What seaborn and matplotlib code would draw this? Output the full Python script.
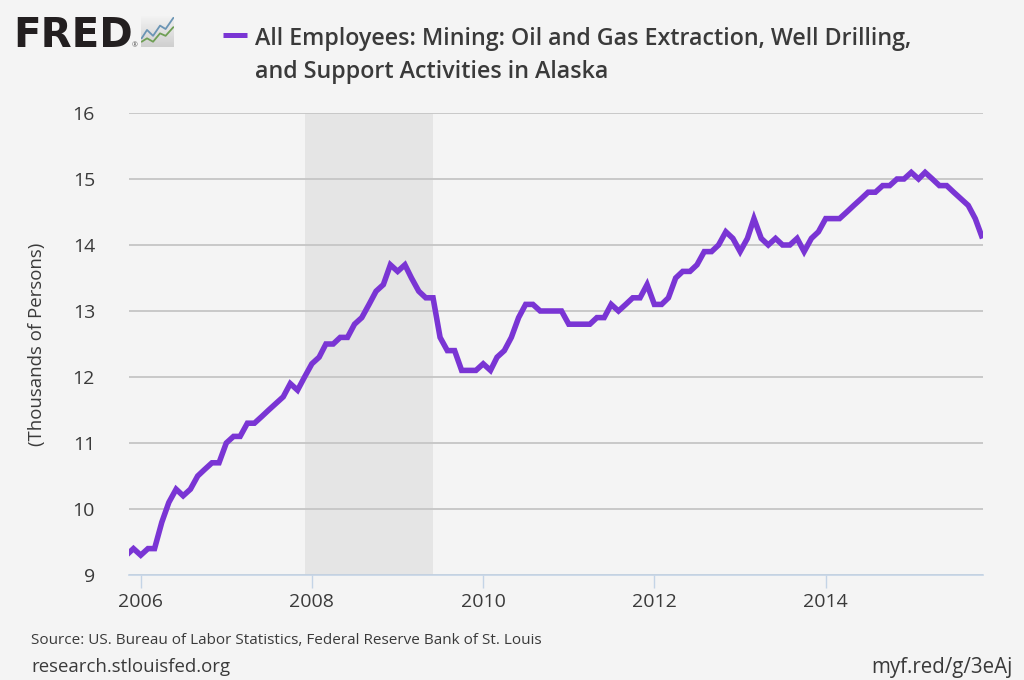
import matplotlib
matplotlib.use("Agg")
import matplotlib.pyplot as plt
import matplotlib.dates as mdates
import numpy as np
import pandas as pd
import seaborn as sns

values = [
    9.3, 9.4,
    9.3, 9.4, 9.4, 9.8, 10.1, 10.3, 10.2, 10.3, 10.5, 10.6, 10.7, 10.7,
    11.0, 11.1, 11.1, 11.3, 11.3, 11.4, 11.5, 11.6, 11.7, 11.9, 11.8, 12.0,
    12.2, 12.3, 12.5, 12.5, 12.6, 12.6, 12.8, 12.9, 13.1, 13.3, 13.4, 13.7,
    13.6, 13.7, 13.5, 13.3, 13.2, 13.2, 12.6, 12.4, 12.4, 12.1, 12.1, 12.1,
    12.2, 12.1, 12.3, 12.4, 12.6, 12.9, 13.1, 13.1, 13.0, 13.0, 13.0, 13.0,
    12.8, 12.8, 12.8, 12.8, 12.9, 12.9, 13.1, 13.0, 13.1, 13.2, 13.2, 13.4,
    13.1, 13.1, 13.2, 13.5, 13.6, 13.6, 13.7, 13.9, 13.9, 14.0, 14.2, 14.1,
    13.9, 14.1, 14.4, 14.1, 14.0, 14.1, 14.0, 14.0, 14.1, 13.9, 14.1, 14.2,
    14.4, 14.4, 14.4, 14.5, 14.6, 14.7, 14.8, 14.8, 14.9, 14.9, 15.0, 15.0,
    15.1, 15.0, 15.1, 15.0, 14.9, 14.9, 14.8, 14.7, 14.6, 14.4, 14.1,
]
dates = pd.date_range("2005-11-01", periods=len(values), freq="MS")
recession = ("2007-12-01", "2009-06-01")
x_limits = ("2005-11-12", "2015-11-03")
y_ticks = [9, 10, 11, 12, 13, 14, 15, 16]
x_years = [2006, 2008, 2010, 2012, 2014]
title_lines = ["All Employees: Mining: Oil and Gas Extraction, Well Drilling,",
               "and Support Activities in Alaska"]
y_label = "(Thousands of Persons)"
source = "Source: US. Bureau of Labor Statistics, Federal Reserve Bank of St. Louis"
site = "research.stlouisfed.org"
short_url = "myf.red/g/3eAj"
logo_text = "FRED"
logo_x = [0.0, 0.17, 0.36, 0.58, 0.755, 1.0]
logo_blue = [0.28, 0.55, 0.36, 0.69, 0.58, 0.94]
logo_green = [0.17, 0.28, 0.17, 0.44, 0.36, 0.64]

BG = "#f4f4f4"
PURPLE = "#7a35d4"
TEXT = "#3a3a3a"
W, H = 1024, 680

sns.set_theme(style="white")
plt.rcParams["font.family"] = ["Open Sans", "DejaVu Sans"]

fig = plt.figure(figsize=(W / 100, H / 100), dpi=100, facecolor=BG)
ax = fig.add_axes([129 / W, 1 - 575 / H, (983 - 129) / W, (575 - 113) / H], facecolor=BG)

df = pd.DataFrame({"date": dates, "value": values})
ax.axvspan(pd.Timestamp(recession[0]), pd.Timestamp(recession[1]), color="#e5e5e5", lw=0, zorder=0)
ax.yaxis.grid(True, color="#c8c8c8", lw=1.4, zorder=1)
ax.xaxis.grid(False)
ax.set_axisbelow(True)
sns.lineplot(data=df, x="date", y="value", ax=ax, color=PURPLE, lw=4.0, zorder=3,
             solid_joinstyle="miter", solid_capstyle="butt", errorbar=None)

ax.set_xlim(pd.Timestamp(x_limits[0]), pd.Timestamp(x_limits[1]))
ax.set_ylim(9, 16)
ax.set_yticks(y_ticks)
ax.set_xticks([pd.Timestamp(f"{y}-01-01") for y in x_years])
ax.xaxis.set_major_formatter(mdates.DateFormatter("%Y"))
ax.set_xlabel("")
ax.set_ylabel(y_label, fontsize=13.4, color=TEXT, labelpad=0)
ax.yaxis.set_label_coords((46 - 129) / (983 - 129), 0.5)
ax.tick_params(axis="y", left=False, length=0, labelsize=14, labelcolor=TEXT, pad=24.5)
ax.tick_params(axis="x", bottom=True, length=9.4, width=1.0, color="#c4d4e6", labelsize=14, labelcolor=TEXT, pad=3.6)
for s in ["top", "left", "right"]:
    ax.spines[s].set_visible(False)
ax.spines["bottom"].set_color("#c4d4e6")
ax.spines["bottom"].set_linewidth(1.2)

# Header
fig.text(13 / W, 1 - 47 / H, logo_text, fontsize=29, fontweight="bold", color="#231f20",
         family=["DejaVu Sans"], va="baseline", ha="left")
fig.text(132 / W, 1 - 47 / H, "\u00ae", fontsize=5, color="#555555", va="baseline", ha="left")
icon = fig.add_axes([141 / W, 1 - 47 / H, 33 / W, 31 / H])
icon.imshow(np.linspace(0.95, 0.81, 32).reshape(-1, 1), cmap="gray", vmin=0, vmax=1,
            extent=(-0.02, 1.02, 0, 1), aspect="auto", zorder=0)
icon.plot(logo_x, logo_blue, color="#6b95b5", lw=1.3)
icon.plot(logo_x, logo_green, color="#6f9f55", lw=1.3)
icon.set_xlim(-0.02, 1.02)
icon.set_ylim(0, 1)
icon.set_xticks([])
icon.set_yticks([])
for s in icon.spines.values():
    s.set_visible(False)

fig.add_artist(plt.Line2D([223 / W, 247 / W], [1 - 34.5 / H, 1 - 34.5 / H], color=PURPLE, lw=3.6,
                          solid_capstyle="butt", transform=fig.transFigure))
fig.text(255 / W, 1 - 39 / H, title_lines[0], fontsize=16.75, fontweight="semibold", color=TEXT, va="center", ha="left")
fig.text(255 / W, 1 - 72 / H, title_lines[1], fontsize=16.75, fontweight="semibold", color=TEXT, va="center", ha="left")

# Footer
fig.text(31 / W, 1 - 640 / H, source, fontsize=10.98, color=TEXT, va="center", ha="left")
fig.text(31 / W, 1 - 667 / H, site, fontsize=13.45, color=TEXT, va="center", ha="left")
fig.text(1013 / W, 1 - 667 / H, short_url, fontsize=14.8, color=TEXT, va="center", ha="right")

fig.savefig("out.png", dpi=100, facecolor=BG)
